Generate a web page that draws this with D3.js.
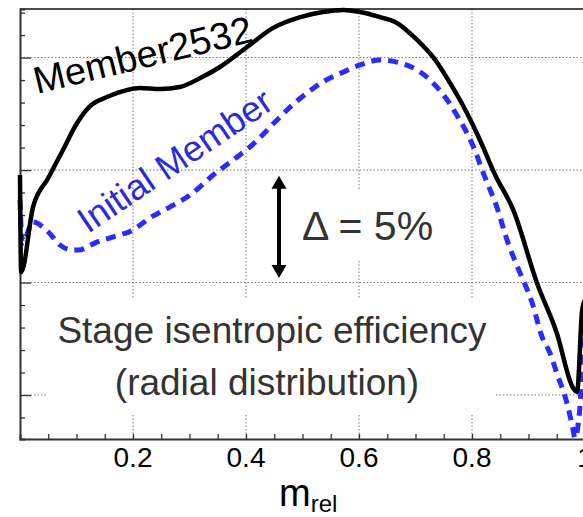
<!DOCTYPE html>
<html>
<head>
<meta charset="utf-8">
<script src="https://cdn.jsdelivr.net/npm/d3@7"></script>
<style>
  html, body { margin: 0; padding: 0; background: #fff; }
  svg { display: block; font-family: "Liberation Sans", Arial, Helvetica, sans-serif; }
</style>
</head>
<body>
<svg id="chart" width="583" height="517"></svg>
<script>
// Relative span position along the blade (m_rel) and stage isentropic efficiency (%)
const memberM = [0, 0.002, 0.023, 0.05, 0.076, 0.101, 0.124, 0.154, 0.189, 0.212, 0.248, 0.283,
  0.319, 0.354, 0.402, 0.448, 0.496, 0.536, 0.572, 0.602, 0.637, 0.664, 0.703, 0.731, 0.761,
  0.791, 0.814, 0.841, 0.873, 0.915, 0.950, 0.979, 0.986, 0.995, 1.0];
const memberEff = [85.76, 81.01, 84.19, 85.61, 86.98, 88.30, 89.13, 89.57, 89.91, 90.01, 89.96, 90.06,
  90.50, 91.04, 92.02, 92.95, 93.48, 93.73, 93.83, 93.73, 93.48, 93.24, 92.36, 91.53, 90.26,
  88.79, 87.47, 85.76, 84.05, 80.48, 78.03, 75.34, 75.15, 79.16, 79.65];

const initialM = [0, 0.004, 0.023, 0.05, 0.071, 0.092, 0.103, 0.136, 0.165, 0.2, 0.23, 0.265,
  0.301, 0.342, 0.377, 0.407, 0.455, 0.478, 0.508, 0.536, 0.572, 0.602, 0.637, 0.667, 0.703,
  0.731, 0.756, 0.773, 0.791, 0.805, 0.818, 0.827, 0.844, 0.862, 0.885, 0.906, 0.924, 0.938,
  0.950, 0.968, 0.979, 0.982, 0.991, 0.996, 1.0];
const initialEff = [84.54, 82.43, 83.46, 82.97, 82.33, 82.09, 82.09, 82.48, 82.73, 83.07, 83.66, 84.19,
  84.78, 85.76, 86.49, 87.13, 88.45, 89.08, 89.77, 90.31, 90.79, 91.14, 91.38, 91.28, 90.89,
  90.26, 89.43, 88.69, 87.81, 86.98, 86.00, 85.37, 84.19, 82.58, 80.97, 79.55, 77.84, 77.05,
  76.08, 74.61, 73.29, 72.90, 74.41, 77.20, 78.18];

// Axis ticks and guides
const xLabelTicks = [0.2, 0.4, 0.6, 0.8, 1];
const xGrid = [0.2, 0.4, 0.6, 0.8];
const xMinor = d3.range(1, 20).map(i => i * 0.05);
const yGrid = [75, 80.5, 86, 91.5];
const yMinor = d3.range(-1, 18).map(i => 75 + i * 1.1);

// Scale bar: a 5 percentage-point span
const deltaBase = 80.72;
const deltaSpan = 5;

const svg = d3.select("#chart");
const x = d3.scaleLinear().domain([0, 1]).range([20, 585]);
const y = d3.scaleLinear().domain([72.85, 93.875]).range([439, 9]);

// dotted grid
const grid = svg.append("g").attr("stroke", "#7a7a7a").attr("stroke-width", 1)
  .attr("stroke-dasharray", "1.5,2");
grid.selectAll(".gx").data(xGrid).join("line")
  .attr("x1", d => x(d)).attr("x2", d => x(d)).attr("y1", y.range()[1]).attr("y2", y.range()[0]);
grid.selectAll(".gy").data(yGrid).join("line")
  .attr("x1", x(0)).attr("x2", 583).attr("y1", d => y(d)).attr("y2", d => y(d));

// white panels behind the annotations
svg.append("rect").attr("x", 48).attr("y", 298).attr("width", 448).attr("height", 116).attr("fill", "#fff");
svg.append("rect").attr("x", 292).attr("y", 189).attr("width", 156).attr("height", 71).attr("fill", "#fff");

// frame and axes
svg.append("line").attr("x1", x(0)).attr("x2", 583).attr("y1", 9).attr("y2", 9)
  .attr("stroke", "#111").attr("stroke-width", 1.5);

const xAxis = svg.append("g").attr("transform", `translate(0,${y.range()[0]})`)
  .call(d3.axisBottom(x).tickValues(xMinor).tickSize(-5).tickFormat(""));
const yAxis = svg.append("g").attr("transform", `translate(${x(0)},0)`)
  .call(d3.axisLeft(y).tickValues(yMinor).tickSize(-5).tickFormat(""));
[xAxis, yAxis].forEach(g => {
  g.select(".domain").attr("stroke", "#333").attr("stroke-width", 2);
  g.selectAll(".tick line").attr("stroke", "#333").attr("stroke-width", 1.3);
});
yAxis.selectAll(".tick line").filter(d => yGrid.some(v => Math.abs(v - d) < 1e-6)).attr("x2", 11);

svg.append("g").selectAll("text").data(xLabelTicks).join("text")
  .attr("x", d => x(d)).attr("y", 467).attr("text-anchor", "middle")
  .attr("font-size", 28).attr("fill", "#000").text(d => d3.format("")(d));

const xTitle = svg.append("text").attr("x", 279).attr("y", 506).attr("fill", "#000");
xTitle.append("tspan").attr("font-size", 38).text("m");
xTitle.append("tspan").attr("font-size", 24).attr("dy", 6).text("rel");

// curves
const line = d3.line().curve(d3.curveMonotoneX);
svg.append("path")
  .attr("d", line(initialM.map((m, i) => [x(m), y(initialEff[i])])))
  .attr("fill", "none").attr("stroke", "#2b2bff").attr("stroke-width", 5)
  .attr("stroke-dasharray", "10,7");
svg.append("path")
  .attr("d", line(memberM.map((m, i) => [x(m), y(memberEff[i])])))
  .attr("fill", "none").attr("stroke", "#000").attr("stroke-width", 4.5);

// curve names
svg.append("text").attr("transform", "translate(37,94) rotate(-13.6)")
  .attr("font-size", 38).attr("fill", "#000").text("Member2532");
svg.append("text").attr("transform", "translate(88,234) rotate(-34)")
  .attr("font-size", 36).attr("fill", "#2a2ad8").text("Initial Member");

// Δ scale bar
const ax = 279, yTop = y(deltaBase + deltaSpan), yBot = y(deltaBase);
const head = 13;
svg.append("line").attr("x1", ax).attr("x2", ax).attr("y1", yTop + head - 1).attr("y2", yBot - head + 1)
  .attr("stroke", "#000").attr("stroke-width", 4);
svg.append("path").attr("d", `M${ax},${yTop} L${ax - 7.5},${yTop + head} L${ax + 7.5},${yTop + head} Z`).attr("fill", "#000");
svg.append("path").attr("d", `M${ax},${yBot} L${ax - 7.5},${yBot - head} L${ax + 7.5},${yBot - head} Z`).attr("fill", "#000");
svg.append("text").attr("x", 302).attr("y", 240).attr("font-size", 41).attr("fill", "#333")
  .text(`Δ = ${deltaSpan}%`);

// panel caption
const cap = svg.append("text").attr("text-anchor", "middle").attr("font-size", 37).attr("fill", "#333");
cap.append("tspan").attr("x", 272).attr("y", 343).text("Stage isentropic efficiency");
cap.append("tspan").attr("x", 267).attr("y", 395).text("(radial distribution)");
</script>
</body>
</html>
